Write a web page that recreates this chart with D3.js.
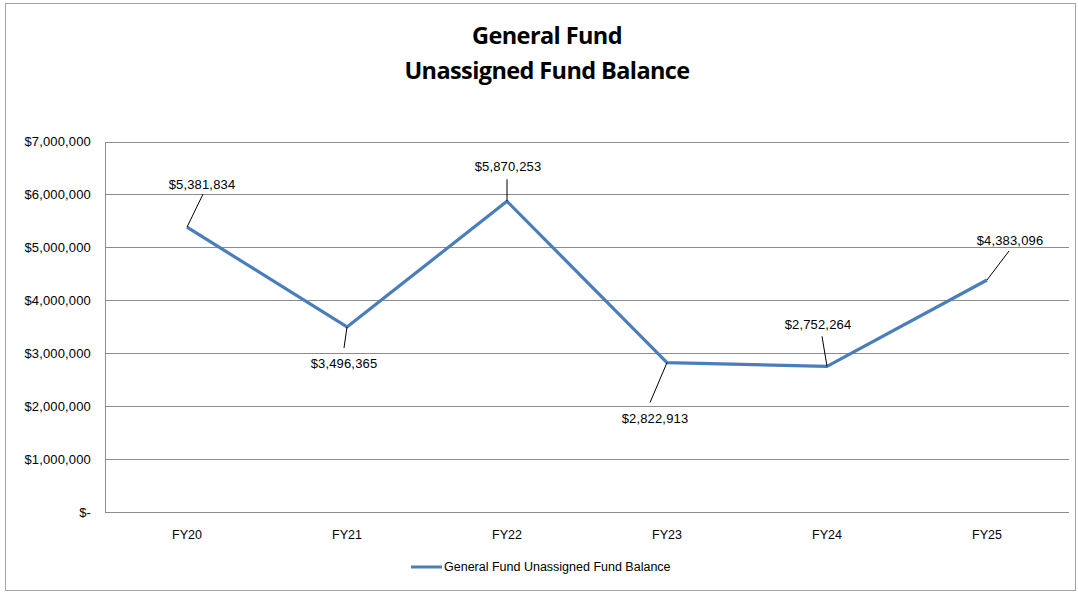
<!DOCTYPE html>
<meta charset="utf-8">
<html>
<head>
  <script src="https://d3js.org/d3.v7.min.js"></script>
  <style>
    body { margin: 0; background: #fff; font-family: "Liberation Sans", Arial, sans-serif; }
    .tick text { fill: #000; }
  </style>
</head>
<body>
  <svg width="1078" height="592"></svg>
  <script>
    // data
    const years = ["FY20", "FY21", "FY22", "FY23", "FY24", "FY25"];
    const balances = [5381834, 3496365, 5870253, 2822913, 2752264, 4383096];
    const yTicks = [0, 1000000, 2000000, 3000000, 4000000, 5000000, 6000000, 7000000];
    const seriesName = "General Fund Unassigned Fund Balance";
    const titleLines = ["General Fund", "Unassigned Fund Balance"];

    // where each data label sits relative to its point (leader end, text anchor)
    const labelPlace = [
      {lx: 16, ly: -33, tx: 15, ty: -43},
      {lx: -3, ly: 21, tx: -3, ty: 37},
      {lx: 0, ly: -22, tx: 1, ty: -35},
      {lx: -17, ly: 40, tx: -12, ty: 56},
      {lx: -5, ly: -30, tx: -9, ty: -42},
      {lx: 22, ly: -29, tx: 23, ty: -40}
    ];

    const svg = d3.select("svg");
    const margin = {top: 141.5, right: 9, bottom: 80, left: 107};
    const W = 1078, H = 592;

    // outer chart border
    svg.append("rect")
      .attr("x", 5.5).attr("y", 3.5)
      .attr("width", W - 8).attr("height", H - 5)
      .attr("fill", "none").attr("stroke", "#a6a6a6");

    const title = svg.append("text")
      .attr("text-anchor", "middle")
      .style("font-family", "'Open Sans', sans-serif")
      .style("font-weight", "bold")
      .style("font-size", "23.5px")
      .style("letter-spacing", "-0.6px");
    titleLines.forEach((t, i) => {
      title.append("tspan").attr("x", 547).attr("y", 44 + i * 35).text(t);
    });

    const x = d3.scaleBand()
      .domain(years)
      .range([margin.left, W - margin.right - 2]);

    const y = d3.scaleLinear()
      .domain([0, 7000000])
      .range([512, margin.top]);

    // gridlines
    svg.append("g")
      .selectAll("line")
      .data(yTicks)
      .join("line")
        .attr("x1", 105).attr("x2", 1069)
        .attr("y1", d => Math.round(y(d)) + 0.5)
        .attr("y2", d => Math.round(y(d)) + 0.5)
        .attr("stroke", "#8c8c8c")
        .attr("stroke-width", 1);

    svg.append("line")
      .attr("x1", 105.5).attr("x2", 105.5)
      .attr("y1", Math.round(y(7000000)) + 0.5)
      .attr("y2", Math.round(y(0)) + 0.5)
      .attr("stroke", "#8c8c8c");

    const fmt = d3.format(",");
    const yAxis = svg.append("g")
      .attr("transform", "translate(91,0)")
      .call(d3.axisLeft(y).tickValues(yTicks).tickSize(0)
        .tickFormat(d => d === 0 ? "$-" : "$" + fmt(d)));
    yAxis.select(".domain").remove();
    yAxis.selectAll("text")
      .attr("x", 0)
      .style("font-family", "'Liberation Sans', Arial, sans-serif")
      .style("font-size", "13px")
      .style("letter-spacing", "0.15px");

    const xAxis = svg.append("g")
      .attr("transform", "translate(0,530)")
      .call(d3.axisBottom(x).tickSize(0));
    xAxis.select(".domain").remove();
    xAxis.selectAll("text")
      .attr("y", 0)
      .attr("dy", "0.71em")
      .style("font-family", "'Liberation Sans', Arial, sans-serif")
      .style("font-size", "12.5px");

    const cx = d => x(d) + x.bandwidth() / 2;
    const pts = years.map((yr, i) => ({yr, v: balances[i], p: labelPlace[i]}));

    svg.append("path")
      .datum(pts)
      .attr("fill", "none")
      .attr("stroke", "#4a7ebb")
      .attr("stroke-width", 3.2)
      .attr("stroke-linejoin", "round")
      .attr("d", d3.line().x(d => cx(d.yr)).y(d => y(d.v)));

    // leader lines and labels
    const lab = svg.append("g");
    lab.selectAll("line")
      .data(pts)
      .join("line")
        .attr("x1", d => cx(d.yr)).attr("y1", d => y(d.v))
        .attr("x2", d => cx(d.yr) + d.p.lx).attr("y2", d => y(d.v) + d.p.ly)
        .attr("stroke", "#000").attr("stroke-width", 1);
    lab.selectAll("text")
      .data(pts)
      .join("text")
        .attr("x", d => cx(d.yr) + d.p.tx)
        .attr("y", d => y(d.v) + d.p.ty)
        .attr("dy", "0.35em")
        .attr("text-anchor", "middle")
        .style("font-size", "13px")
        .style("letter-spacing", "0.15px")
        .text(d => "$" + fmt(d.v));

    // legend
    const lg = svg.append("g").attr("transform", "translate(411,567)");
    lg.append("line").attr("x1", 0).attr("x2", 31)
      .attr("stroke", "#4a7ebb").attr("stroke-width", 3);
    lg.append("text").attr("x", 33).attr("dy", "0.35em")
      .style("font-size", "12.5px")
      .text(seriesName);
  </script>
</body>
</html>
